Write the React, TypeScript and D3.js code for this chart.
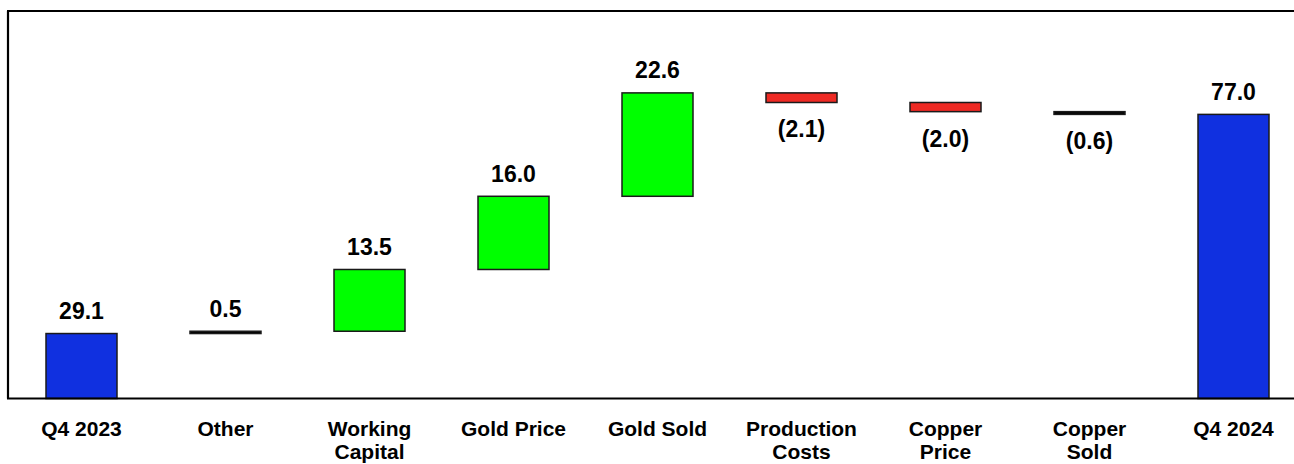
import React from "react";
import * as d3 from "d3";

const categories: string[][] = [
  ["Q4 2023"],
  ["Other"],
  ["Working", "Capital"],
  ["Gold Price"],
  ["Gold Sold"],
  ["Production", "Costs"],
  ["Copper", "Price"],
  ["Copper", "Sold"],
  ["Q4 2024"],
];
// kind: total or delta
const kinds = ["total", "delta", "delta", "delta", "delta", "delta", "delta", "delta", "total"];
const values = [29.1, 0.5, 13.5, 16.0, 22.6, -2.1, -2.0, -0.6, 77.0];
const yDomain = [14.9, 99.6];

const W = 1294;
const H = 464;
const LEFT = 8;
const TOP = 11;
const BOTTOM = 398.5;
const FONT = "'Liberation Sans', Arial, Helvetica, sans-serif";

export default function App() {
  const x = d3
    .scalePoint<number>()
    .domain(d3.range(categories.length))
    .range([9.5, 1305.5])
    .padding(0.5);
  const y = d3.scaleLinear().domain(yDomain).range([BOTTOM, TOP]);
  const barW = 71;

  let running = 0;
  const bars = values.map((v, i) => {
    let start: number, end: number;
    if (kinds[i] === "total") {
      start = yDomain[0];
      end = v;
      running = v;
    } else {
      start = running;
      end = running + v;
      running = end;
    }
    const lo = Math.min(start, end);
    const hi = Math.max(start, end);
    let fill = "#1030E0";
    if (kinds[i] === "delta") {
      if (Math.abs(v) < 1) fill = "#000";
      else fill = v > 0 ? "#00FF00" : "#EE2A24";
    }
    return { i, v, lo, hi, fill };
  });

  const fmt = (v: number) => (v < 0 ? `(${Math.abs(v).toFixed(1)})` : v.toFixed(1));

  return (
    <svg
      width={W}
      height={H}
      style={{ position: "absolute", left: 0, top: 0, background: "#fff" }}
    >
      {bars.map((b) => {
        const cx = x(b.i)!;
        const yTop = y(b.hi);
        const yBot = y(b.lo);
        return (
          <g key={b.i}>
            <rect
              x={cx - barW / 2}
              y={yTop}
              width={barW}
              height={Math.max(0, yBot - yTop)}
              fill={b.fill}
              stroke="#1a1a1a"
              strokeWidth={1.5}
            />
            <text
              x={cx}
              y={b.v < 0 ? yBot + 35 : yTop - 14.5}
              textAnchor="middle"
              fontFamily={FONT}
              fontWeight="bold"
              fontSize={23}
              fill="#000"
            >
              {fmt(b.v)}
            </text>
          </g>
        );
      })}
      {categories.map((lines, i) => (
        <text
          key={i}
          x={x(i)!}
          y={436}
          textAnchor="middle"
          fontFamily={FONT}
          fontWeight="bold"
          fontSize={21}
          fill="#000"
        >
          {lines.map((l, j) => (
            <tspan key={j} x={x(i)!} dy={j === 0 ? 0 : 23}>
              {l}
            </tspan>
          ))}
        </text>
      ))}
      <line x1={LEFT - 1} x2={W} y1={TOP} y2={TOP} stroke="#000" strokeWidth={2.2} />
      <line x1={LEFT} x2={LEFT} y1={TOP} y2={BOTTOM} stroke="#000" strokeWidth={2.2} />
      <line x1={LEFT - 1} x2={W} y1={BOTTOM} y2={BOTTOM} stroke="#000" strokeWidth={2.2} />
    </svg>
  );
}
